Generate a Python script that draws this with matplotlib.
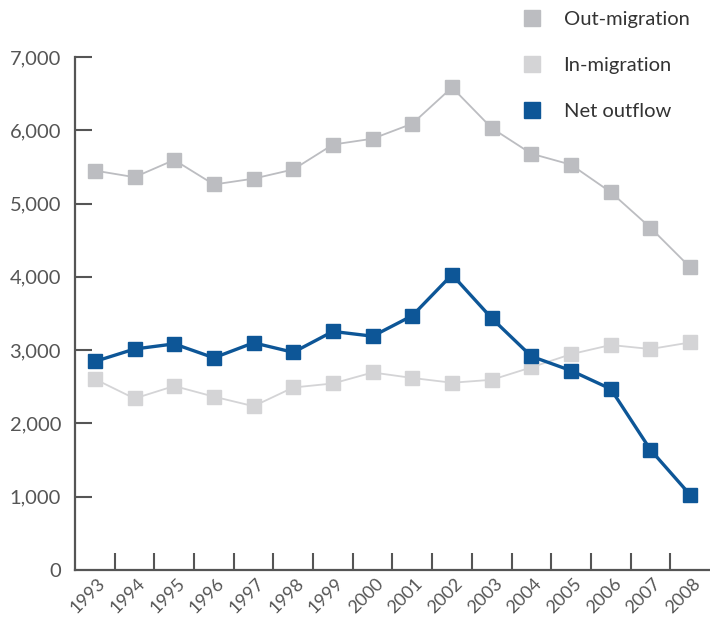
import numpy as np
import matplotlib.pyplot as plt
import matplotlib.transforms as mtransforms
from matplotlib.lines import Line2D

plt.rcParams['font.family'] = ['Lato', 'DejaVu Sans']

# Data
years = ['1993', '1994', '1995', '1996', '1997', '1998', '1999', '2000',
         '2001', '2002', '2003', '2004', '2005', '2006', '2007', '2008']
out_migration = [5450, 5360, 5595, 5260, 5340, 5465, 5805, 5885,
                 6090, 6585, 6030, 5680, 5530, 5155, 4670, 4130]
in_migration = [2605, 2340, 2510, 2365, 2235, 2490, 2545, 2695,
                2620, 2555, 2595, 2765, 2945, 3070, 3015, 3105]
net_outflow = [2845, 3015, 3085, 2895, 3100, 2970, 3255, 3190,
               3470, 4030, 3435, 2915, 2720, 2470, 1640, 1025]

col_out = '#bcbdc1'
col_in = '#d4d4d6'
col_net = '#0d5697'
axis_col = '#555555'

fig = plt.figure(figsize=(7.1, 6.18), dpi=100)
ax = fig.add_axes([0.1056, 0.0777, 0.8944, 0.8301])

x = np.arange(len(years))
ax.plot(x, in_migration, color=col_in, lw=1.3, marker='s', ms=9.5, zorder=2)
ax.plot(x, out_migration, color=col_out, lw=1.3, marker='s', ms=9.5, zorder=2)
ax.plot(x, net_outflow, color=col_net, lw=2.4, marker='s', ms=10.5, zorder=3)

ax.set_xlim(-0.5, 15.5)
ax.set_ylim(0, 7000)

for s in ['top', 'right']:
    ax.spines[s].set_visible(False)
for s in ['left', 'bottom']:
    ax.spines[s].set_color(axis_col)
    ax.spines[s].set_linewidth(1.6)

ax.set_yticks(np.arange(0, 7001, 1000))
ax.set_yticklabels(['0' if v == 0 else f'{v:,}' for v in range(0, 7001, 1000)])
ax.tick_params(axis='y', direction='in', length=12, width=1.5, color=axis_col,
               labelcolor=axis_col, labelsize=14.5, pad=10)
# remove the tick mark at 0 (sits on the x axis)
ax.yaxis.get_major_ticks()[0].tick1line.set_visible(False)

ax.set_xticks(x)
ax.set_xticklabels(years, rotation=45, ha='right', va='center',
                   rotation_mode='anchor')
ax.set_xticks(np.arange(0.5, 15, 1), minor=True)
ax.tick_params(axis='x', which='major', length=0, labelcolor=axis_col,
               labelsize=13, pad=8)
ax.tick_params(axis='x', which='minor', direction='in', length=12, width=1.5,
               color=axis_col)
offset = mtransforms.ScaledTranslation(0.08, 0, fig.dpi_scale_trans)
for lab in ax.get_xticklabels():
    lab.set_transform(lab.get_transform() + offset)

handles = [Line2D([], [], ls='none', marker='s', ms=11, color=c)
           for c in (col_out, col_in, col_net)]
leg = fig.legend(handles, ['Out-migration', 'In-migration', 'Net outflow'],
                 loc='upper left', bbox_to_anchor=(0.71, 1.012), frameon=False,
                 fontsize=14.5, labelspacing=1.45, handletextpad=1.05,
                 handlelength=1.0)
for t in leg.get_texts():
    t.set_color('#333333')

fig.savefig('out.png', dpi=100)
